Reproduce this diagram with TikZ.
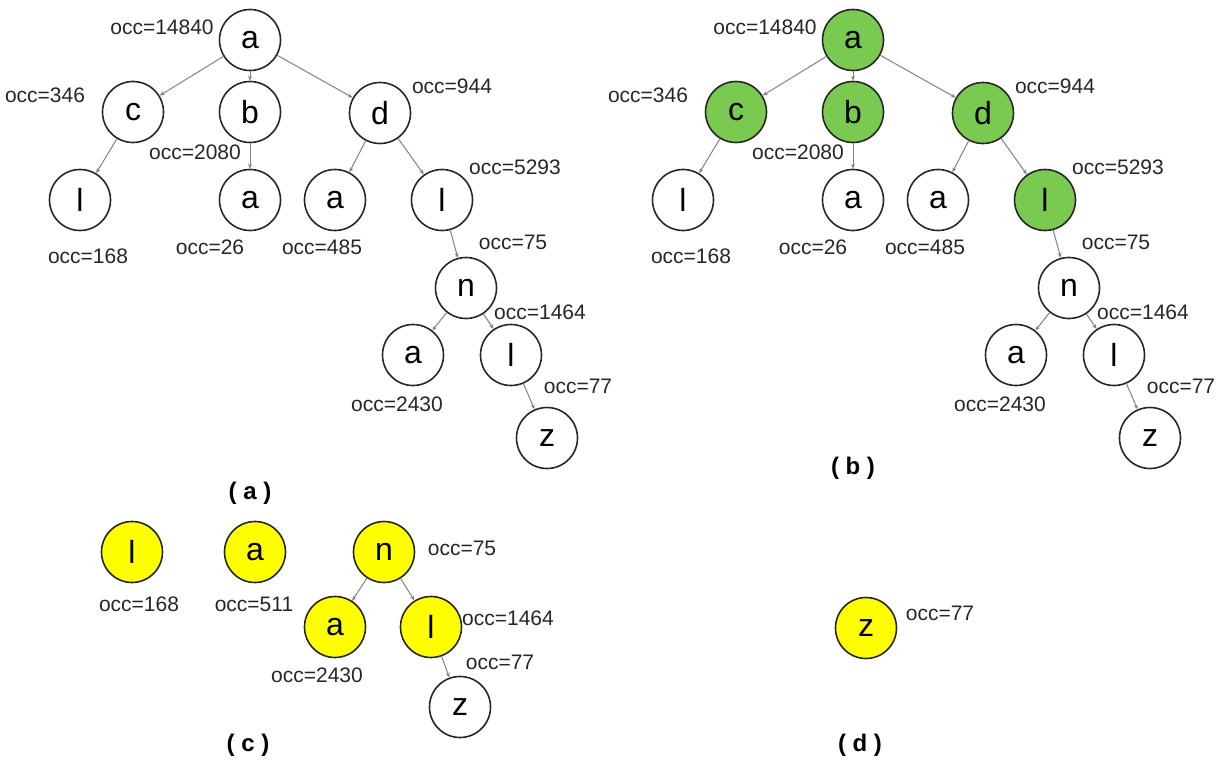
\documentclass[tikz,border=0pt]{standalone}
\usepackage{fontspec}
\setmainfont{Liberation Sans}
\usetikzlibrary{arrows.meta}
\definecolor{nodegreen}{RGB}{122,201,80}
\definecolor{nodeyellow}{RGB}{255,255,0}
\definecolor{edgegray}{RGB}{130,130,130}
\tikzset{
  tn/.style={circle,draw=black!85,line width=1.6pt,minimum size=61pt,inner sep=0pt,
    font=\fontsize{32}{32}\selectfont},
  gn/.style={tn,fill=nodegreen},
  yn/.style={tn,fill=nodeyellow},
  lab/.style={font=\fontsize{21}{21}\selectfont,inner sep=0pt,text=black!85},
  subcap/.style={font=\bfseries\fontsize{24}{24}\selectfont,inner sep=0pt},
  ed/.style={draw=edgegray,line width=1pt,-{Stealth[length=5pt,width=4pt]}}
}
\begin{document}
\begin{tikzpicture}[x=1pt,y=-1pt]
\useasboundingbox (0,0) rectangle (1224,773);
% ---------- (a) ----------
\node[tn] (Aa) at (250,40) {a};
\node[tn] (Ac) at (133,112) {c};
\node[tn] (Ab) at (250,112) {b};
\node[tn] (Ad) at (380,113) {d};
\node[tn] (Al1) at (80,200) {l};
\node[tn] (Aa2) at (250,200) {a};
\node[tn] (Aa3) at (335,200) {a};
\node[tn] (Al2) at (442,200) {l};
\node[tn] (An) at (466,288) {n};
\node[tn] (Aa4) at (413,355) {a};
\node[tn] (Al3) at (511,355) {l};
\node[tn] (Az) at (547,438) {z};
\draw[ed] (Aa) -- (Ac);
\draw[ed] (Aa) -- (Ab);
\draw[ed] (Aa) -- (Ad);
\draw[ed] (Ac) -- (Al1);
\draw[ed] (Ab) -- (Aa2);
\draw[ed] (Ad) -- (Aa3);
\draw[ed] (Ad) -- (Al2);
\draw[ed] (Al2) -- (An);
\draw[ed] (An) -- (Aa4);
\draw[ed] (An) -- (Al3);
\draw[ed] (Al3) -- (Az);
\node[lab] (AL1) at (162,27) {occ=14840};
\node[lab] (AL2) at (45,95) {occ=346};
\node[lab] (AL3) at (195,152) {occ=2080};
\node[lab] (AL4) at (452,86) {occ=944};
\node[lab] (AL5) at (515,167) {occ=5293};
\node[lab] (AL6) at (88,256) {occ=168};
\node[lab] (AL7) at (210,247) {occ=26};
\node[lab] (AL8) at (322,247) {occ=485};
\node[lab] (AL9) at (513,242) {occ=75};
\node[lab] (AL10) at (540,312) {occ=1464};
\node[lab] (AL11) at (397,404) {occ=2430};
\node[lab] (AL12) at (578,386) {occ=77};
\node[subcap] (Acap) at (250,493) {( a )};
% ---------- (b) ----------
\begin{scope}[xshift=603pt]
\node[gn] (Ba) at (250,40) {a};
\node[gn] (Bc) at (133,112) {c};
\node[gn] (Bb) at (250,112) {b};
\node[gn] (Bd) at (380,113) {d};
\node[tn] (Bl1) at (80,200) {l};
\node[tn] (Ba2) at (250,200) {a};
\node[tn] (Ba3) at (335,200) {a};
\node[gn] (Bl2) at (442,200) {l};
\node[tn] (Bn) at (466,288) {n};
\node[tn] (Ba4) at (413,355) {a};
\node[tn] (Bl3) at (511,355) {l};
\node[tn] (Bz) at (547,438) {z};
\draw[ed] (Ba) -- (Bc);
\draw[ed] (Ba) -- (Bb);
\draw[ed] (Ba) -- (Bd);
\draw[ed] (Bc) -- (Bl1);
\draw[ed] (Bb) -- (Ba2);
\draw[ed] (Bd) -- (Ba3);
\draw[ed] (Bd) -- (Bl2);
\draw[ed] (Bl2) -- (Bn);
\draw[ed] (Bn) -- (Ba4);
\draw[ed] (Bn) -- (Bl3);
\draw[ed] (Bl3) -- (Bz);
\node[lab] (BL1) at (162,27) {occ=14840};
\node[lab] (BL2) at (45,95) {occ=346};
\node[lab] (BL3) at (195,152) {occ=2080};
\node[lab] (BL4) at (452,86) {occ=944};
\node[lab] (BL5) at (515,167) {occ=5293};
\node[lab] (BL6) at (88,256) {occ=168};
\node[lab] (BL7) at (210,247) {occ=26};
\node[lab] (BL8) at (322,247) {occ=485};
\node[lab] (BL9) at (513,242) {occ=75};
\node[lab] (BL10) at (540,312) {occ=1464};
\node[lab] (BL11) at (397,404) {occ=2430};
\node[lab] (BL12) at (578,386) {occ=77};
\node[subcap] (Bcap) at (250,468) {( b )};
\end{scope}
% ---------- (c) ----------
\node[yn] (Cl) at (132,552) {l};
\node[yn] (Ca) at (255,552) {a};
\node[yn] (Cn) at (384,552) {n};
\node[yn] (Ca2) at (335,627) {a};
\node[yn] (Cl2) at (431,627) {l};
\node[tn] (Cz) at (460,707) {z};
\draw[ed] (Cn) -- (Ca2);
\draw[ed] (Cn) -- (Cl2);
\draw[ed] (Cl2) -- (Cz);
\node[lab] (CL1) at (139,604) {occ=168};
\node[lab] (CL2) at (254,604) {occ=511};
\node[lab] (CL3) at (462,548) {occ=75};
\node[lab] (CL4) at (508,618) {occ=1464};
\node[lab] (CL5) at (500,662) {occ=77};
\node[lab] (CL6) at (317,675) {occ=2430};
\node[subcap] (Ccap) at (248,745) {( c )};
% ---------- (d) ----------
\node[yn] (Dz) at (866,628) {z};
\node[lab] (DL1) at (940,613) {occ=77};
\node[subcap] (Dcap) at (860,745) {( d )};
\end{tikzpicture}
\end{document}
